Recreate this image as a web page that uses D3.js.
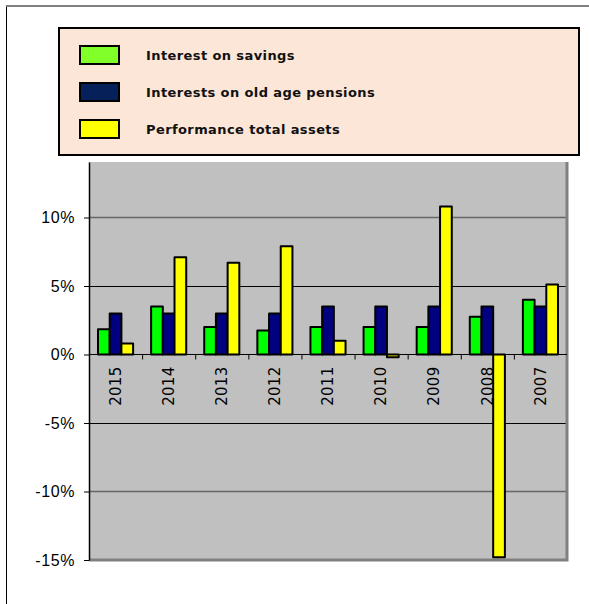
<!DOCTYPE html>
<html lang="en">
<head>
  <meta charset="UTF-8">
  <title>Interest and performance</title>
  <style>
  body { margin: 0; background: #fff; }
  svg { display: block; font-family: "DejaVu Sans", Verdana, sans-serif; }
  .legend text { font-size: 13px; font-weight: bold; fill: #111; letter-spacing: 0.4px; }
  .yaxis text { font-size: 16px; fill: #000; letter-spacing: 0.6px; }
  .xlabel { font-size: 15px; fill: #000; letter-spacing: 0.3px; }
  </style>
</head>
<body>
  <svg></svg>
  <script src="https://d3js.org/d3.v7.min.js"></script>
  <script>

  var years = ['2015', '2014', '2013', '2012', '2011', '2010', '2009', '2008', '2007'];
  var savings = [1.85, 3.5, 2.0, 1.75, 2.0, 2.0, 2.0, 2.75, 4.0];
  var pensions = [3.0, 3.0, 3.0, 3.0, 3.5, 3.5, 3.5, 3.5, 3.5];
  var assets = [0.8, 7.1, 6.7, 7.9, 1.0, -0.2, 10.8, -14.8, 5.1];
  var yTicks = [10, 5, 0, -5, -10, -15];

  var seriesNames = ['Interest on savings', 'Interests on old age pensions', 'Performance total assets'];
  var barColors = ['#00ff00', '#000080', '#ffff00'];
  var legendColors = ['#80ff28', '#06205a', '#ffff00'];
  var seriesValues = [savings, pensions, assets];

  var width = 589, height = 604;
  var svg = d3.select('svg').attr('width', width).attr('height', height);

  // outer frame (top + left only)
  svg.append('line').attr('x1', 6).attr('x2', width).attr('y1', 6).attr('y2', 6)
     .attr('stroke', '#808080').attr('stroke-width', 2);
  svg.append('line').attr('x1', 6.5).attr('x2', 6.5).attr('y1', 7).attr('y2', height)
     .attr('stroke', '#000').attr('stroke-width', 1);

  // legend
  var legend = svg.append('g').attr('class', 'legend');
  legend.append('rect')
        .attr('x', 59).attr('y', 28).attr('width', 520).attr('height', 127)
        .attr('fill', '#fce6d8').attr('stroke', '#000').attr('stroke-width', 2);

  var items = legend.selectAll('g.item')
    .data(seriesNames)
    .enter()
    .append('g')
    .attr('class', 'item')
    .attr('transform', function (d, i) { return 'translate(0,' + (55 + i * 37) + ')'; });

  items.append('rect')
       .attr('x', 80).attr('y', -9).attr('width', 39).attr('height', 18)
       .attr('fill', function (d, i) { return legendColors[i]; })
       .attr('stroke', '#000').attr('stroke-width', 2);

  items.append('text')
       .attr('x', 146).attr('dy', '0.35em')
       .text(function (d) { return d; });

  // plot area
  var plot = { left: 89, right: 567, top: 162, bottom: 560 };

  var x = d3.scaleBand().domain(years).range([plot.left, plot.right]).paddingInner(0).paddingOuter(0);
  var inner = d3.scaleBand().domain([0, 1, 2]).range([0, x.bandwidth()]).paddingOuter(0.77).paddingInner(0);
  var y = d3.scaleLinear().domain([-15, 14.05]).range([plot.bottom, plot.top]);

  svg.append('rect')
     .attr('x', plot.left).attr('y', plot.top)
     .attr('width', plot.right - plot.left).attr('height', plot.bottom - plot.top)
     .attr('fill', '#c0c0c0');

  // gridlines
  svg.append('g')
     .selectAll('line')
     .data(yTicks.filter(function (t) { return t !== 0 && t !== -15; }))
     .enter()
     .append('line')
     .attr('x1', plot.left).attr('x2', plot.right)
     .attr('y1', function (d) { return Math.round(y(d)) + 0.5; })
     .attr('y2', function (d) { return Math.round(y(d)) + 0.5; })
     .attr('stroke', function (d) { return Math.abs(d) === 10 ? '#666' : '#000'; })
     .attr('stroke-width', function (d) { return Math.abs(d) === 10 ? 1.5 : 1; });

  // right and bottom border
  svg.append('path')
     .attr('d', 'M' + plot.right + ',' + plot.top + 'V' + plot.bottom + 'H' + plot.left)
     .attr('fill', 'none').attr('stroke', '#808080').attr('stroke-width', 3);

  // bars
  var groups = svg.append('g')
    .selectAll('g')
    .data(years)
    .enter()
    .append('g')
    .attr('transform', function (d) { return 'translate(' + x(d) + ',0)'; });

  groups.selectAll('rect')
    .data(function (d, i) { return seriesValues.map(function (s, k) { return { k: k, v: s[i] }; }); })
    .enter()
    .append('rect')
    .attr('x', function (d) { return inner(d.k); })
    .attr('width', inner.bandwidth())
    .attr('y', function (d) { return y(Math.max(0, d.v)); })
    .attr('height', function (d) { return Math.abs(y(d.v) - y(0)); })
    .attr('fill', function (d) { return barColors[d.k]; })
    .attr('stroke', '#000')
    .attr('stroke-width', 2)
    .attr('stroke-linejoin', 'round');

  // zero line with category ticks
  var xAxis = svg.append('g').attr('transform', 'translate(0,' + y(0) + ')');
  xAxis.append('line').attr('x1', plot.left).attr('x2', plot.right)
       .attr('stroke', '#000').attr('stroke-width', 1);
  xAxis.selectAll('line.tick')
       .data(years.slice(1))
       .enter()
       .append('line')
       .attr('class', 'tick')
       .attr('x1', function (d) { return x(d) + 0.5; })
       .attr('x2', function (d) { return x(d) + 0.5; })
       .attr('y1', 0).attr('y2', 5)
       .attr('stroke', '#000');

  xAxis.selectAll('text')
       .data(years)
       .enter()
       .append('text')
       .attr('class', 'xlabel')
       .attr('transform', function (d) {
         return 'translate(' + (x(d) + x.bandwidth() / 2) + ',12)rotate(-90)';
       })
       .attr('text-anchor', 'end')
       .attr('dy', '0.35em')
       .text(function (d) { return d; });

  // y axis
  var yAxis = svg.append('g')
     .attr('class', 'yaxis')
     .attr('transform', 'translate(' + plot.left + ',0)')
     .call(d3.axisLeft(y).tickValues(yTicks).tickSize(5).tickSizeOuter(0)
       .tickFormat(function (d) { return d + '%'; }));
  yAxis.select('.domain').attr('stroke', '#000').attr('stroke-width', 1.5);
  yAxis.selectAll('.tick text').attr('x', -14).attr('fill', '#000');
  yAxis.selectAll('.tick line').attr('stroke', '#000');

  </script>
</body>
</html>
